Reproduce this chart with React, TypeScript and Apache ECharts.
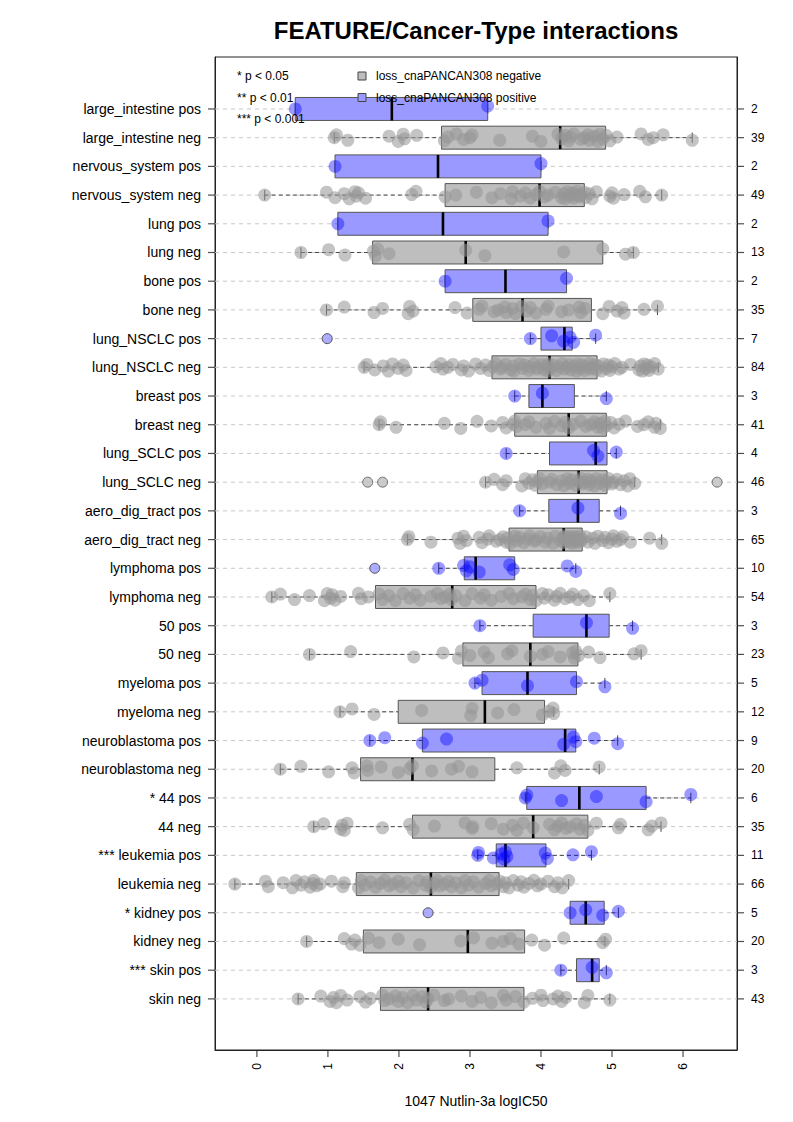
import React, { useEffect, useRef } from "react";
import * as echarts from "echarts";

const ROW_LABELS = [
  "large_intestine pos", "large_intestine neg", "nervous_system pos", "nervous_system neg",
  "lung pos", "lung neg", "bone pos", "bone neg", "lung_NSCLC pos", "lung_NSCLC neg",
  "breast pos", "breast neg", "lung_SCLC pos", "lung_SCLC neg", "aero_dig_tract pos",
  "aero_dig_tract neg", "lymphoma pos", "lymphoma neg", "50 pos", "50 neg", "myeloma pos",
  "myeloma neg", "neuroblastoma pos", "neuroblastoma neg", "* 44 pos", "44 neg",
  "*** leukemia pos", "leukemia neg", "* kidney pos", "kidney neg", "*** skin pos", "skin neg",
];

const COUNTS = [2, 39, 2, 49, 2, 13, 2, 35, 7, 84, 3, 41, 4, 46, 3, 65, 10, 54, 3, 23, 5, 12, 9, 20, 6, 35, 11, 66, 5, 20, 3, 43];

// [lower whisker, Q1, median, Q3, upper whisker]
const BOX_STATS = [
  [0.54, 0.54, 1.9, 3.25, 3.25],
  [1.09, 2.6, 4.27, 4.91, 6.13],
  [1.1, 1.1, 2.55, 4.0, 4.0],
  [0.11, 2.65, 3.98, 4.61, 5.7],
  [1.14, 1.14, 2.62, 4.1, 4.1],
  [0.62, 1.63, 2.94, 4.87, 5.3],
  [2.65, 2.65, 3.5, 4.36, 4.36],
  [0.98, 3.04, 3.74, 4.71, 5.64],
  [3.85, 4.0, 4.33, 4.44, 4.77],
  [1.51, 3.31, 4.12, 4.79, 5.65],
  [3.63, 3.83, 4.02, 4.47, 4.92],
  [1.72, 3.63, 4.39, 4.92, 5.68],
  [3.51, 4.12, 4.77, 4.93, 5.06],
  [3.22, 3.95, 4.53, 4.93, 5.32],
  [3.7, 4.11, 4.52, 4.82, 5.12],
  [2.12, 3.55, 4.32, 4.58, 5.7],
  [2.56, 2.92, 3.08, 3.63, 4.49],
  [0.21, 1.67, 2.75, 3.93, 4.97],
  [3.14, 3.89, 4.64, 4.96, 5.29],
  [0.74, 2.9, 3.85, 4.52, 5.41],
  [3.07, 3.17, 3.81, 4.5, 4.9],
  [1.17, 1.99, 3.21, 4.05, 4.18],
  [1.59, 2.33, 4.34, 4.49, 5.08],
  [0.33, 1.46, 2.19, 3.35, 4.82],
  [3.78, 3.8, 4.54, 5.48, 6.11],
  [0.8, 2.19, 3.89, 4.66, 5.69],
  [3.11, 3.37, 3.5, 4.07, 4.71],
  [-0.31, 1.4, 2.45, 3.41, 4.39],
  [4.41, 4.41, 4.63, 4.89, 5.09],
  [0.7, 1.5, 2.97, 3.77, 4.9],
  [4.28, 4.5, 4.72, 4.82, 4.92],
  [0.58, 1.74, 2.41, 3.76, 4.97],
];

const POINTS = [
  [0.54, 3.25],
  [1.09, 1.12, 1.28, 1.86, 1.99, 2.06, 2.08, 2.25, 2.64, 2.69, 2.81, 2.91, 3.0, 3.03, 3.42, 3.88, 4.0, 4.24, 4.29, 4.34, 4.39, 4.41, 4.46, 4.56, 4.61, 4.66, 4.68, 4.75, 4.8, 4.83, 4.87, 4.92, 4.97, 5.07, 5.41, 5.51, 5.58, 5.72, 6.13],
  [1.1, 4.0],
  [0.11, 0.98, 1.1, 1.23, 1.3, 1.38, 1.4, 1.43, 1.53, 2.18, 2.24, 2.65, 2.8, 3.09, 3.31, 3.43, 3.58, 3.6, 3.71, 3.78, 3.85, 3.93, 3.98, 4.05, 4.1, 4.2, 4.29, 4.32, 4.34, 4.37, 4.41, 4.44, 4.46, 4.48, 4.51, 4.54, 4.56, 4.61, 4.63, 4.68, 4.72, 4.78, 4.97, 5.0, 5.02, 5.17, 5.39, 5.47, 5.7],
  [1.14, 4.1],
  [0.62, 1.01, 1.24, 1.64, 1.67, 1.7, 1.86, 2.94, 3.21, 4.32, 4.87, 5.19, 5.3],
  [2.65, 4.36],
  [0.98, 1.23, 1.65, 1.77, 2.13, 2.15, 2.2, 2.79, 2.96, 3.13, 3.17, 3.34, 3.4, 3.49, 3.51, 3.6, 3.64, 3.73, 3.8, 3.85, 3.93, 4.07, 4.1, 4.29, 4.39, 4.54, 4.56, 4.62, 4.87, 4.96, 5.07, 5.14, 5.17, 5.45, 5.64],
  [3.85, 4.15, 4.32, 4.41, 4.46, 4.77],
  [1.51, 1.55, 1.66, 1.78, 1.85, 1.91, 1.99, 2.06, 2.1, 2.52, 2.59, 2.62, 2.69, 2.76, 2.88, 2.91, 2.98, 3.08, 3.15, 3.22, 3.27,
    3.32, 3.36, 3.43, 3.45, 3.5, 3.58, 3.61, 3.62, 3.7, 3.74, 3.77, 3.83, 3.85, 3.9, 3.94, 3.95, 4.01, 4.04, 4.07, 4.1, 4.11,
    4.13, 4.18, 4.22, 4.25, 4.3, 4.33, 4.36, 4.4, 4.42, 4.47, 4.5, 4.52, 4.55, 4.58, 4.61, 4.64, 4.68, 4.7, 4.73, 4.76, 4.78,
    4.81, 4.85, 4.88, 4.92, 4.95, 4.97, 5.0, 5.04, 5.1, 5.14, 5.26, 5.38, 5.4, 5.43, 5.45, 5.48, 5.5, 5.52, 5.55, 5.6, 5.65],
  [3.63, 4.02, 4.92],
  [1.72, 1.74, 1.96, 2.64, 2.87, 3.1, 3.3, 3.46, 3.51, 3.61, 3.63, 3.66, 3.78, 3.83, 3.93, 4.07, 4.12, 4.19, 4.29, 4.34, 4.39, 4.46, 4.56, 4.63, 4.7, 4.75, 4.8, 4.83, 4.87, 4.9, 4.92, 4.98, 5.03, 5.1, 5.19, 5.36, 5.45, 5.51, 5.6, 5.62, 5.68],
  [3.51, 4.74, 4.8, 5.06],
  [3.22, 3.34, 3.46, 3.51, 3.73, 3.78, 3.83, 3.88, 3.92, 3.95, 3.98, 4.02, 4.12, 4.15, 4.22, 4.29, 4.32, 4.37, 4.4, 4.44, 4.49, 4.53, 4.56, 4.58, 4.61, 4.66, 4.68, 4.71, 4.75, 4.78, 4.83, 4.87, 4.9, 4.93, 4.95, 5.0, 5.02, 5.07, 5.12, 5.17, 5.22, 5.25, 5.32],
  [3.7, 4.52, 5.12],
  [2.12, 2.14, 2.45, 2.83, 2.86, 2.91, 2.95, 3.13, 3.17, 3.25, 3.27, 3.37, 3.42, 3.47, 3.51, 3.53,
    3.57, 3.63, 3.66, 3.7, 3.76, 3.81, 3.84, 3.91, 3.93, 3.99, 4.06, 4.09, 4.17, 4.2, 4.27, 4.31, 4.32,
    4.33, 4.34, 4.36, 4.38, 4.39, 4.41, 4.43, 4.44, 4.46, 4.48, 4.5, 4.51, 4.53, 4.55, 4.56, 4.58,
    4.63, 4.66, 4.73, 4.76, 4.8, 4.87, 4.9, 4.95, 5.0, 5.02, 5.07, 5.12, 5.15, 5.26, 5.53, 5.7],
  [2.56, 2.91, 2.95, 3.0, 3.13, 3.56, 3.61, 4.37, 4.49],
  [0.21, 0.33, 0.53, 0.74, 0.95, 0.99, 1.04, 1.06, 1.1, 1.18, 1.43, 1.47, 1.57, 1.72, 1.77, 1.86, 1.95, 2.06, 2.15, 2.23, 2.3, 2.45, 2.54, 2.59, 2.65, 2.71, 2.74, 2.8, 2.93, 3.03, 3.15, 3.2, 3.3, 3.44, 3.55, 3.61, 3.73, 3.78, 3.85, 3.88, 3.93, 4.02, 4.05, 4.1, 4.19, 4.22, 4.27, 4.34, 4.41, 4.45, 4.52, 4.6, 4.68, 4.97],
  [3.14, 4.64, 5.29],
  [0.74, 1.32, 2.21, 2.62, 2.84, 2.88, 3.0, 3.2, 3.26, 3.53, 3.59, 3.85, 4.02, 4.1, 4.27, 4.44, 4.47, 4.49, 4.53, 4.67, 4.83, 5.31, 5.41],
  [3.07, 3.17, 3.81, 4.5, 4.9],
  [1.17, 1.34, 1.65, 2.32, 3.01, 3.03, 3.39, 3.62, 4.02, 4.11, 4.17, 4.18],
  [1.59, 1.8, 2.33, 2.67, 4.32, 4.46, 4.49, 4.75, 5.08],
  [0.33, 0.62, 1.01, 1.34, 1.37, 1.55, 1.56, 1.75, 1.99, 2.15, 2.19, 2.46, 2.74, 2.84, 3.03, 3.66, 4.19, 4.28, 4.34, 4.82],
  [3.78, 3.8, 4.29, 4.78, 5.48, 6.11],
  [0.8, 0.94, 1.18, 1.2, 1.23, 1.27, 1.77, 2.15, 2.2, 2.5, 2.93, 3.03, 3.04, 3.3, 3.47, 3.6, 3.66, 3.75, 3.89, 4.12, 4.19, 4.24, 4.29, 4.35, 4.41, 4.5, 4.55, 4.61, 4.66, 4.78, 5.09, 5.12, 5.51, 5.56, 5.69],
  [3.11, 3.12, 3.33, 3.44, 3.48, 3.5, 3.52, 4.06, 4.09, 4.45, 4.71],
  [-0.31, 0.12, 0.16, 0.37, 0.5, 0.55, 0.62, 0.67, 0.75, 0.79, 0.8, 0.84, 0.89, 1.05, 1.21, 1.23,
    1.43, 1.47, 1.52, 1.6, 1.67, 1.74, 1.8, 1.86, 1.92, 1.99, 2.03, 2.1, 2.2, 2.28, 2.37, 2.4, 2.45,
    2.5, 2.54, 2.58, 2.64, 2.7, 2.74, 2.8, 2.88, 2.93, 2.98, 3.05, 3.12, 3.22, 3.27, 3.3, 3.38,
    3.42, 3.47, 3.5, 3.55, 3.61, 3.68, 3.72, 3.76, 3.83, 3.9, 3.95, 4.0, 4.1, 4.19, 4.24, 4.3, 4.39],
  [4.41, 4.63, 4.87, 5.09],
  [0.7, 1.23, 1.33, 1.38, 1.45, 1.57, 1.72, 1.99, 2.29, 2.87, 3.05, 3.31, 3.47, 3.57, 3.69, 3.87, 4.05, 4.32, 4.87, 4.91],
  [4.28, 4.72, 4.92],
  [0.58, 0.9, 1.03, 1.08, 1.12, 1.18, 1.27, 1.45, 1.53, 1.6, 1.77, 1.8, 1.86, 1.95, 1.99, 2.05, 2.12, 2.2, 2.25, 2.33, 2.38, 2.41, 2.49, 2.64, 2.7, 2.88, 3.03, 3.15, 3.3, 3.47, 3.51, 3.64, 3.76, 3.88, 4.0, 4.03, 4.17, 4.24, 4.29, 4.35, 4.61, 4.66, 4.97],
];

const OUTLIERS = [
  [], [], [], [], [], [], [], [], [0.99], [], [], [], [], [1.56, 1.77, 6.48], [], [],
  [1.66], [], [], [], [], [], [], [], [], [], [], [], [2.41], [], [], [],
];

const X_TICKS = [0, 1, 2, 3, 4, 5, 6];
const X_RANGE = [-0.59, 6.76];
const Y_RANGE = [-0.78, 33.81];
const SIG_LEGEND = ["* p < 0.05", "** p < 0.01", "*** p < 0.001"];
const GROUP_LEGEND = ["loss_cnaPANCAN308 negative", "loss_cnaPANCAN308 positive"];
const X_NAME = "1047 Nutlin-3a logIC50";
const TITLE = "FEATURE/Cancer-Type interactions";

// small vertical jitter offsets (row units), cycled over the points of a row
const JITTER = [0, 0.1, -0.09, 0.05, -0.13, 0.12, -0.04, 0.08, -0.11, 0.02, 0.13, -0.06];

const FONT = "Liberation Sans, Arial, Helvetica, sans-serif";
const GRAY_FILL = "#BEBEBE";
const BLUE_FILL = "#9999FF";
const BOX_BORDER = "#555555";
const TICK_LEN = 7;

const N = ROW_LABELS.length;
const rowY = (i: number) => N - i;
const isPos = (i: number) => ROW_LABELS[i].endsWith("pos");

export default function App() {
  const ref = useRef<HTMLDivElement>(null);

  useEffect(() => {
    if (!ref.current) return;
    const chart = echarts.init(ref.current, null, { renderer: "svg" });
    const rows = ROW_LABELS.map((_, i) => rowY(i));

    const grayPts: number[][] = [];
    const bluePts: number[][] = [];
    POINTS.forEach((vals, i) => {
      vals.forEach((v, k) => {
        const p = [v, rowY(i) + JITTER[k % JITTER.length]];
        (isPos(i) ? bluePts : grayPts).push(p);
      });
    });
    const grayOut: number[][] = [];
    const blueOut: number[][] = [];
    OUTLIERS.forEach((vals, i) => {
      vals.forEach((v) => (isPos(i) ? blueOut : grayOut).push([v, rowY(i)]));
    });

    const boxData = BOX_STATS.map((s, i) => [rowY(i), ...s, isPos(i) ? 1 : 0]);
    const axisLine = { show: true, onZero: false, lineStyle: { color: "#222", width: 1 } };

    const tickSeries = (data: number[][], size: number[], offset: number[]) => ({
      type: "scatter",
      silent: true,
      clip: false,
      z: 10,
      symbol: "rect",
      symbolSize: size,
      symbolOffset: offset,
      data,
      itemStyle: { color: "#222", borderWidth: 0 },
    });

    const option: any = {
      animation: false,
      grid: { left: 215, right: 56, top: 57, bottom: 72, show: true, borderColor: "#222", borderWidth: 1, backgroundColor: "transparent" },
      xAxis: {
        type: "value",
        min: X_RANGE[0],
        max: X_RANGE[1],
        name: X_NAME,
        nameLocation: "middle",
        nameGap: 44,
        nameTextStyle: { fontFamily: FONT, fontSize: 14, color: "#000" },
        axisLine,
        axisTick: { show: false },
        axisLabel: { customValues: X_TICKS, rotate: 90, fontFamily: FONT, fontSize: 12, color: "#000", margin: 13 },
        splitLine: { show: false },
      },
      yAxis: [
        {
          type: "value",
          min: Y_RANGE[0],
          max: Y_RANGE[1],
          axisLine,
          axisTick: { show: false },
          axisLabel: {
            customValues: rows,
            fontFamily: FONT,
            fontSize: 14,
            color: "#000",
            margin: 14,
            formatter: (v: number) => ROW_LABELS[N - Math.round(v)] ?? "",
          },
          splitLine: { show: false },
        },
        {
          type: "value",
          position: "right",
          min: Y_RANGE[0],
          max: Y_RANGE[1],
          axisLine,
          axisTick: { show: false },
          axisLabel: {
            customValues: rows,
            fontFamily: FONT,
            fontSize: 12,
            color: "#000",
            margin: 14,
            formatter: (v: number) => String(COUNTS[N - Math.round(v)] ?? ""),
          },
          splitLine: { show: false },
        },
      ],
      series: [
        {
          type: "custom",
          name: "grid",
          z: 1,
          silent: true,
          data: rows.map((y) => [0, y]),
          encode: { x: 0, y: 1 },
          renderItem: (params: any, api: any) => {
            const c = api.coord([api.value(0), api.value(1)]);
            const cs = params.coordSys;
            return {
              type: "line",
              shape: { x1: cs.x, y1: c[1], x2: cs.x + cs.width, y2: c[1] },
              style: { stroke: "#C8C8C8", lineWidth: 1, lineDash: [4, 4] },
            };
          },
        },
        tickSeries(rows.map((y) => [X_RANGE[0], y]), [TICK_LEN, 1.2], [-TICK_LEN / 2, 0]),
        tickSeries(rows.map((y) => [X_RANGE[1], y]), [TICK_LEN, 1.2], [TICK_LEN / 2, 0]),
        tickSeries(X_TICKS.map((v) => [v, Y_RANGE[0]]), [1.2, TICK_LEN], [0, TICK_LEN / 2]),
        {
          type: "custom",
          name: "boxes",
          z: 2,
          silent: true,
          data: boxData,
          encode: { x: [1, 2, 3, 4, 5], y: 0 },
          renderItem: (params: any, api: any) => {
            const y = api.value(0);
            const lo = api.coord([api.value(1), y]);
            const q1 = api.coord([api.value(2), y]);
            const md = api.coord([api.value(3), y]);
            const q3 = api.coord([api.value(4), y]);
            const hi = api.coord([api.value(5), y]);
            const pos = api.value(6) === 1;
            const h = api.size([0, 0.8])[1];
            const sh = api.size([0, 0.36])[1];
            const cy = lo[1];
            const dash = { stroke: "#444", lineWidth: 1, lineDash: [4, 3] };
            const solid = { stroke: "#444", lineWidth: 1 };
            return {
              type: "group",
              children: [
                { type: "line", shape: { x1: lo[0], y1: cy, x2: q1[0], y2: cy }, style: dash },
                { type: "line", shape: { x1: q3[0], y1: cy, x2: hi[0], y2: cy }, style: dash },
                { type: "line", shape: { x1: lo[0], y1: cy - sh / 2, x2: lo[0], y2: cy + sh / 2 }, style: solid },
                { type: "line", shape: { x1: hi[0], y1: cy - sh / 2, x2: hi[0], y2: cy + sh / 2 }, style: solid },
                {
                  type: "rect",
                  shape: { x: q1[0], y: cy - h / 2, width: q3[0] - q1[0], height: h },
                  style: { fill: pos ? BLUE_FILL : GRAY_FILL, stroke: BOX_BORDER, lineWidth: 1 },
                },
                { type: "line", shape: { x1: md[0], y1: cy - h / 2, x2: md[0], y2: cy + h / 2 }, style: { stroke: "#000", lineWidth: 2.6 } },
              ],
            };
          },
        },
        {
          type: "scatter",
          name: "neg points",
          z: 3,
          silent: true,
          symbol: "circle",
          symbolSize: 13,
          data: grayPts,
          itemStyle: { color: "rgba(150,150,150,0.7)" },
        },
        {
          type: "scatter",
          name: "pos points",
          z: 3,
          silent: true,
          symbol: "circle",
          symbolSize: 13,
          data: bluePts,
          itemStyle: { color: "rgba(0,0,255,0.5)" },
        },
        {
          type: "scatter",
          name: "neg outliers",
          z: 4,
          silent: true,
          symbolSize: 10,
          data: grayOut,
          itemStyle: { color: GRAY_FILL, borderColor: "#555", borderWidth: 1 },
        },
        {
          type: "scatter",
          name: "pos outliers",
          z: 4,
          silent: true,
          symbolSize: 10,
          data: blueOut,
          itemStyle: { color: BLUE_FILL, borderColor: "#333", borderWidth: 1 },
        },
      ],
      graphic: [
        {
          type: "text",
          z: 100,
          x: 476,
          y: 30,
          style: { text: TITLE, font: `bold 24px ${FONT}`, fill: "#000", textAlign: "center", textVerticalAlign: "middle" },
        },
        ...SIG_LEGEND.map((t, k) => ({
          type: "text",
          z: 100,
          x: 237,
          y: 76 + k * 21.5,
          style: { text: t, font: `12px ${FONT}`, fill: "#000", textAlign: "left", textVerticalAlign: "middle" },
        })),
        ...GROUP_LEGEND.map((t, k) => ({
          type: "group",
          z: 100,
          children: [
            {
              type: "rect",
              z: 100,
              shape: { x: 358, y: 72 + k * 21.5, width: 8, height: 8 },
              style: { fill: k === 0 ? GRAY_FILL : BLUE_FILL, stroke: "#444", lineWidth: 1 },
            },
            {
              type: "text",
              z: 100,
              x: 376,
              y: 76 + k * 21.5,
              style: { text: t, font: `12px ${FONT}`, fill: "#000", textAlign: "left", textVerticalAlign: "middle" },
            },
          ],
        })),
      ],
    };

    chart.setOption(option);
    return () => chart.dispose();
  }, []);

  return <div ref={ref} style={{ position: "absolute", left: 0, top: 0, width: 793, height: 1122 }} />;
}
